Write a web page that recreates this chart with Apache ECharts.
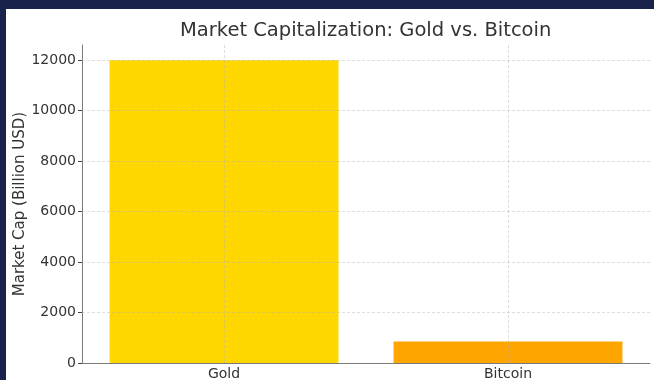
<!DOCTYPE html>
<html>
<head>
<meta charset="utf-8">
<title>Market Capitalization: Gold vs. Bitcoin</title>
<script src="https://cdn.jsdelivr.net/npm/echarts@6/dist/echarts.min.js"></script>
<style>
  html, body { margin: 0; padding: 0; background: #19224a; width: 654px; height: 380px; overflow: hidden; }
  #chart { position: absolute; left: 6px; top: 9px; width: 648px; height: 371px; background: #ffffff; }
</style>
</head>
<body>
<div id="chart"></div>
<script>
// Market capitalization in billion USD
const assets = ['Gold', 'Bitcoin'];
const marketCap = [12000, 850];
const barColors = ['#ffd700', '#ffa500'];
const yTicks = [0, 2000, 4000, 6000, 8000, 10000, 12000];

const chart = echarts.init(document.getElementById('chart'), null, { renderer: 'canvas' });

const gridLine = { color: 'rgba(176,176,176,0.55)', type: [3, 2], width: 0.8 };

chart.setOption({
  animation: false,
  title: {
    text: 'Market Capitalization: Gold vs. Bitcoin',
    left: 174,
    top: 12,
    padding: 0,
    textStyle: { fontFamily: 'DejaVu Sans', fontSize: 19.5, fontWeight: 'normal', color: '#333333' }
  },
  grid: { left: 76, top: 36, right: 4, bottom: 17, containLabel: false, outerBoundsMode: 'none' },
  xAxis: {
    type: 'category',
    data: assets,
    axisLine: { lineStyle: { color: '#7a7a7a', width: 1 } },
    axisTick: { alignWithLabel: true, length: 4, lineStyle: { color: '#444' } },
    axisLabel: { fontFamily: 'DejaVu Sans', fontSize: 14, color: '#333333', margin: 4 },
    splitLine: { show: false }
  },
  yAxis: {
    type: 'value',
    min: 0,
    max: 12600,
    name: 'Market Cap (Billion USD)',
    nameLocation: 'middle',
    nameRotate: 90,
    nameGap: 54,
    nameMoveOverlap: false,
    nameTextStyle: { fontFamily: 'DejaVu Sans', fontSize: 15, color: '#333333' },
    axisLine: { show: true, lineStyle: { color: '#7a7a7a', width: 1 } },
    axisTick: { show: true, length: 4, customValues: yTicks, lineStyle: { color: '#444' } },
    axisLabel: {
      fontFamily: 'DejaVu Sans', fontSize: 14, color: '#333333', margin: 6,
      customValues: yTicks,
      formatter: v => String(v)
    },
    splitLine: { show: false }
  },
  series: [{
    type: 'bar',
    data: marketCap.map((v, i) => ({ value: v, itemStyle: { color: barColors[i] } })),
    barWidth: '80.6%',
    markLine: {
      silent: true,
      symbol: 'none',
      label: { show: false },
      lineStyle: gridLine,
      z: 5,
      data: [
        ...assets.map(a => ({ xAxis: a })),
        ...yTicks.filter(t => t > 0).map(t => ({ yAxis: t }))
      ]
    }
  }]
});
</script>
</body>
</html>
